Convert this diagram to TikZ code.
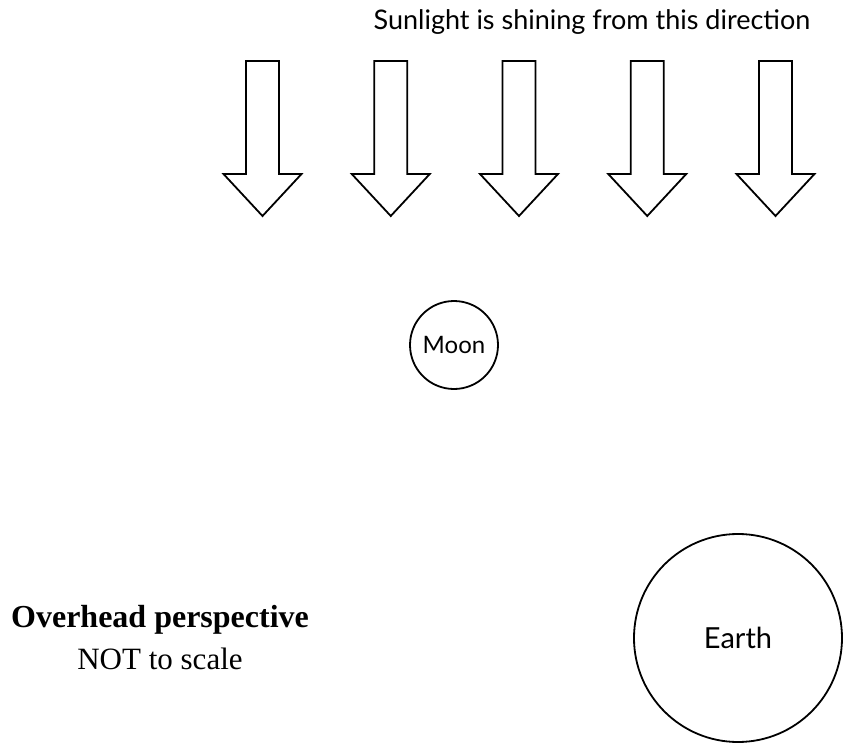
\documentclass[tikz,border=0pt]{standalone}
\usepackage{fontspec}
\setmainfont{Liberation Serif}
\newfontfamily\labelfont{Lato}
\usetikzlibrary{positioning}
\tikzset{body/.style = {circle,draw,line width=1.8pt,inner sep=0pt},
         ray/.style = {draw,line width=1.8pt,line join=miter}}

\begin{document}
\begin{tikzpicture}[x=1pt,y=-1pt]
    \useasboundingbox (0,0) rectangle (844,744);
    \node[anchor=base] (sun) at (592,29) {\labelfont\fontsize{27}{32}\selectfont Sunlight is shining from this direction};
    \foreach \x in {262.5,390.75,519,647.25,775.5}
        \draw[ray] (\x-16.5,61) -- (\x+16.5,61) -- (\x+16.5,174) -- (\x+39,174)
            -- (\x,216) -- (\x-39,174) -- (\x-16.5,174) -- cycle;
    \node[body,minimum size=88pt] (moon) at (454,345) {\labelfont\fontsize{24}{28}\selectfont Moon};
    \node[body,minimum size=208pt] (earth) at (738,638) {\labelfont\fontsize{29}{34}\selectfont Earth};
    \node[anchor=base] (title) at (160,627) {\fontsize{32}{38}\selectfont\bfseries Overhead perspective};
    \node[anchor=base] (scale) at (160,669) {\fontsize{31}{37}\selectfont NOT to scale};
\end{tikzpicture}
\end{document}
